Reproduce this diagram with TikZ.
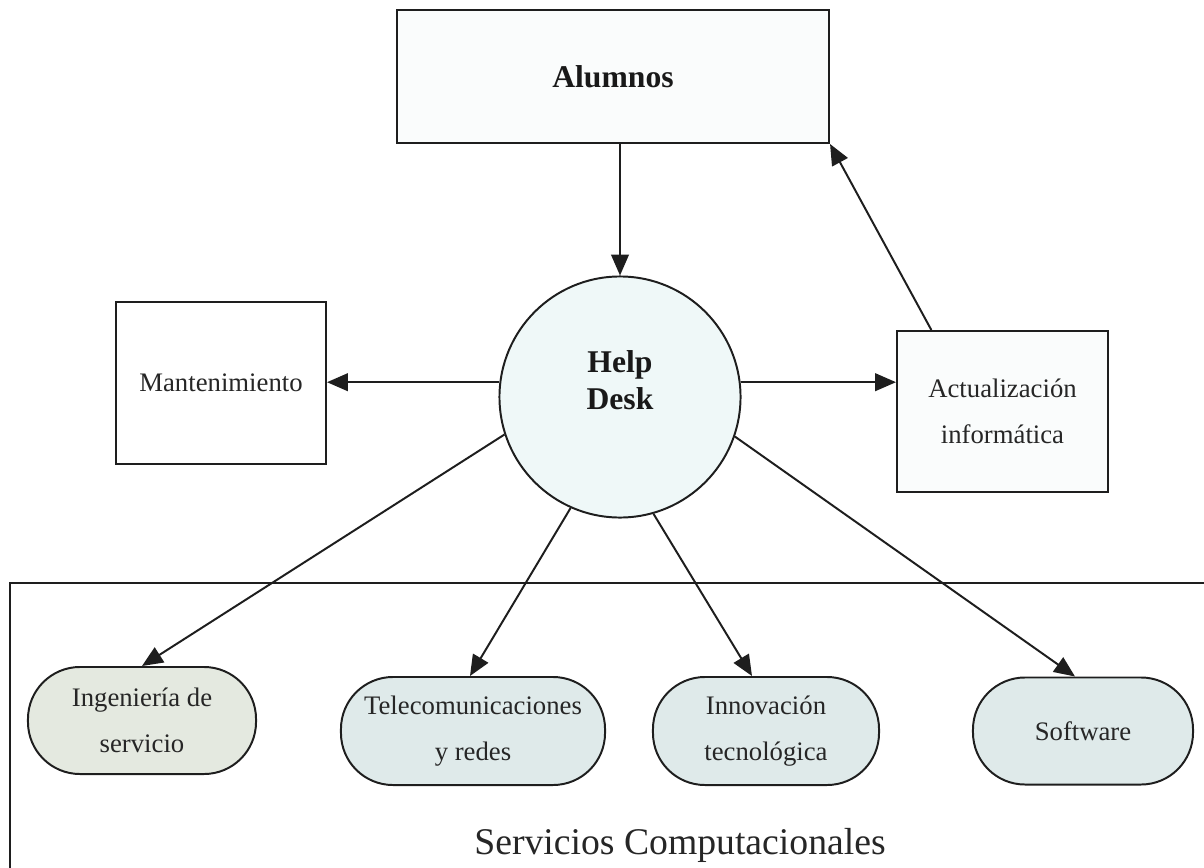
\documentclass[tikz,border=0pt]{standalone}
\usepackage{fontspec}
\setmainfont{Liberation Serif}
\usetikzlibrary{arrows.meta,calc}
\definecolor{ln}{HTML}{1E1E1E}
\definecolor{cfill}{HTML}{EFF8F8}
\definecolor{bfill}{HTML}{FAFCFC}
\definecolor{gfill}{HTML}{E4E9E0}
\definecolor{rfill}{HTML}{DFEAEA}
\tikzset{
  base/.style={draw=ln, line width=1.4pt, inner sep=0pt, align=center, text=black!85,
    font=\fontsize{19}{33}\selectfont},
  sqbox/.style={base, rectangle, fill=white},
  pill/.style={base, rectangle, rounded corners=1.3cm, fill=rfill},
  boldtxt/.style={font=\fontsize{22.5}{26}\selectfont\bfseries, align=center, text=black!90},
  arr/.style={draw=ln, line width=1.4pt, -{Triangle[length=0.52cm,width=0.44cm]}}
}
\begin{document}
\begin{tikzpicture}[x=0.025cm, y=-0.025cm]
\useasboundingbox (0,0) rectangle (1204,868);
% frame
\draw[ln, line width=1.4pt] (10,868) -- (10,583) -- (1204,583);
% nodes
\node[sqbox, fill=bfill, minimum width=10.8cm, minimum height=3.325cm, boldtxt] (alum) at (613,76.5) {Alumnos};
\node[base, circle, fill=cfill, minimum size=6.025cm] (hd) at (620,397) {};
\node[boldtxt] (hdt) at (620,380) {Help\\Desk};
\node[sqbox, minimum width=5.25cm, minimum height=4.05cm] (mant) at (221,383) {Mantenimiento};
\node[sqbox, fill=bfill, minimum width=5.275cm, minimum height=4.025cm] (act) at (1002.5,411.5) {Actualización\\informática};
\node[pill, fill=gfill, minimum width=5.7cm, minimum height=2.675cm] (ing) at (142,720.5) {Ingeniería de\\servicio};
\node[pill, minimum width=6.6cm, minimum height=2.7cm] (tel) at (473,731) {Telecomunicaciones\\y redes};
\node[pill, minimum width=5.65cm, minimum height=2.7cm] (inn) at (766,731) {Innovación\\tecnológica};
\node[pill, minimum width=5.5cm, minimum height=2.675cm] (soft) at (1083,731) {Software};
\node[font=\fontsize{26.8}{30}\selectfont, text=black!85] (serv) at (680,845) {Servicios Computacionales};
% connectors
\draw[arr] (alum.south -| hd.north) -- (hd.north);
\draw[arr] (hd.173) -- (hd.173 -| mant.east);
\draw[arr] (hd.7) -- (hd.7 -| act.west);
\draw[arr] ($(act.north west)!0.166!(act.north east)$) -- (alum.south east);
\draw[arr] (hd.198) -- (ing.north);
\draw[arr] (hd.246) -- ($(tel.north)+(-3,0)$);
\draw[arr] (hd.286) -- ($(inn.north)+(-14,0)$);
\draw[arr] (hd.341.6) -- ($(soft.north)+(-8,0)$);
\end{tikzpicture}
\end{document}
